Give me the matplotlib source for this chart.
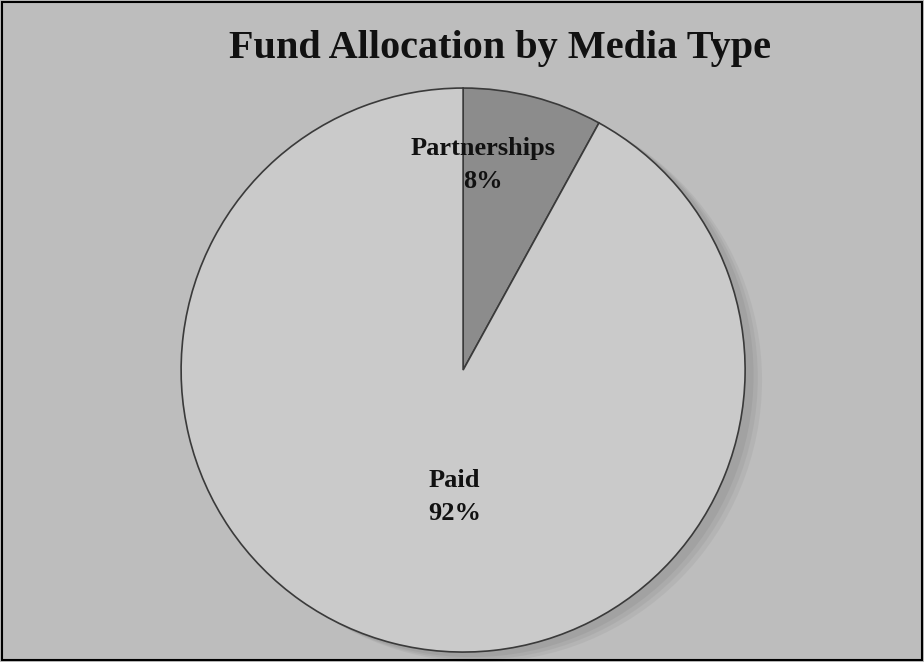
import matplotlib
matplotlib.use("Agg")
import matplotlib.pyplot as plt
from matplotlib.patches import Circle

# datos
categorias = ["Partnerships", "Paid"]
valores = [8, 92]
colores = ["#8c8c8c", "#cacaca"]
titulo = "Fund Allocation by Media Type"

fig = plt.figure(figsize=(9.24, 6.62), dpi=100)
fig.patch.set_facecolor("#bdbdbd")

# marco negro alrededor
fig.add_artist(plt.Rectangle((0.002, 0.003), 0.996, 0.994, transform=fig.transFigure,
                             fill=False, ec="black", lw=1.5))

fig.text(0.541, 0.927, titulo, ha="center", va="center", fontsize=29,
         fontweight="bold", family="Liberation Serif", color="#111111")

ax = fig.add_axes([0.196, 0.015, 0.6104, 0.852])
ax.set_facecolor("none")

# sombra difusa
for k, a in [(0.06, 0.18), (0.045, 0.22), (0.03, 0.3)]:
    ax.add_patch(Circle((k, -k * 0.6), 1.0, color="#8f8f8f", alpha=a, zorder=0, clip_on=False, lw=0))

wedges, _ = ax.pie(valores, colors=colores, startangle=90, counterclock=False,
                   radius=1.0, wedgeprops=dict(edgecolor="#3a3a3a", lw=1.2))
for w in wedges:
    w.set_zorder(2)
    w.set_clip_on(False)

# etiquetas
fnt = dict(fontsize=19, fontweight="bold", family="Liberation Serif", color="#111111",
           ha="center", va="center", zorder=5)
ax.text(0.07, 0.727, "%s\n%d%%" % (categorias[0], valores[0]), linespacing=1.55, **fnt)
ax.text(-0.03, -0.45, "%s\n%d%%" % (categorias[1], valores[1]), linespacing=1.6, **fnt)

ax.set_xlim(-1.0, 1.0)
ax.set_ylim(-1.0, 1.0)
ax.set_aspect("equal")
ax.axis("off")

fig.savefig("out.png", dpi=100, facecolor=fig.get_facecolor())
